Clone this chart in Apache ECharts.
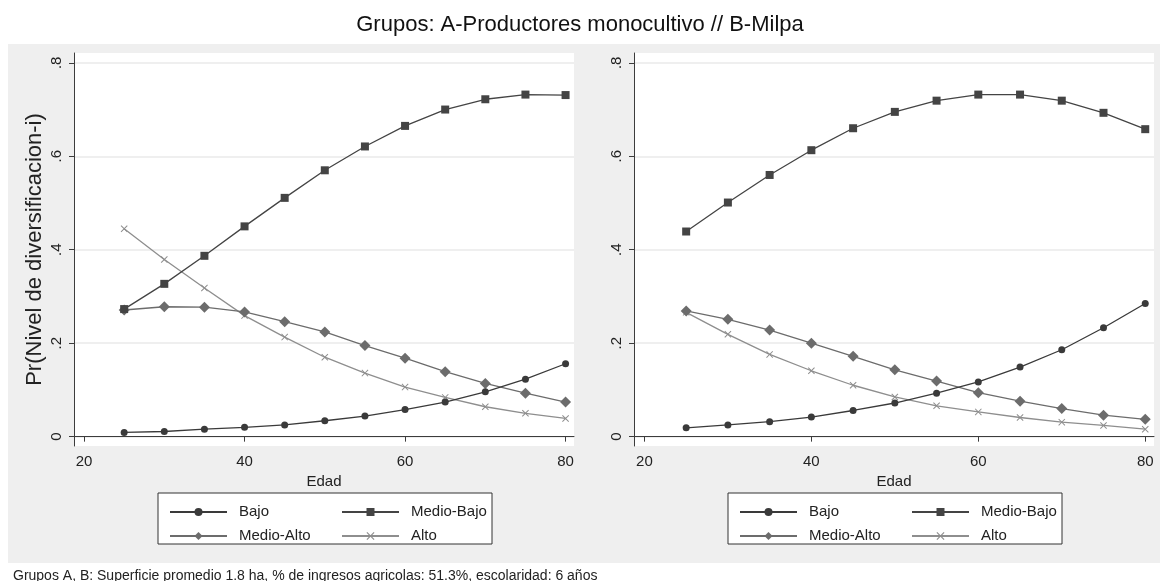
<!DOCTYPE html>
<html>
<head>
<meta charset="utf-8">
<script src="https://cdn.jsdelivr.net/npm/echarts@6/dist/echarts.min.js"></script>
<style>
  html, body { margin: 0; padding: 0; background: #fff; }
  #chart { width: 1160px; height: 581px; }
</style>
</head>
<body>
<div id="chart"></div>
<script>
// 数据
const edades = [25, 30, 35, 40, 45, 50, 55, 60, 65, 70, 75, 80];
const xTicks = [20, 40, 60, 80];
const yTicks = [0, 0.2, 0.4, 0.6, 0.8];
const niveles = ["Bajo", "Medio-Bajo", "Medio-Alto", "Alto"];

// A - Productores monocultivo
const bajoA = [0.009, 0.011, 0.016, 0.020, 0.025, 0.034, 0.044, 0.058, 0.074, 0.096, 0.123, 0.156];
const medioBajoA = [0.273, 0.327, 0.387, 0.450, 0.511, 0.570, 0.621, 0.665, 0.700, 0.722, 0.732, 0.731];
const medioAltoA = [0.271, 0.278, 0.277, 0.267, 0.246, 0.224, 0.195, 0.168, 0.139, 0.114, 0.093, 0.074];
const altoA = [0.445, 0.379, 0.318, 0.259, 0.213, 0.170, 0.136, 0.106, 0.084, 0.064, 0.050, 0.039];

// B - Milpa
const bajoB = [0.019, 0.025, 0.032, 0.042, 0.056, 0.072, 0.093, 0.117, 0.149, 0.186, 0.233, 0.285];
const medioBajoB = [0.439, 0.501, 0.560, 0.613, 0.660, 0.695, 0.719, 0.732, 0.732, 0.719, 0.693, 0.658];
const medioAltoB = [0.269, 0.251, 0.228, 0.200, 0.172, 0.143, 0.119, 0.094, 0.076, 0.060, 0.046, 0.037];
const altoB = [0.266, 0.219, 0.176, 0.141, 0.110, 0.085, 0.066, 0.053, 0.041, 0.031, 0.024, 0.016];

const titulo = "Grupos: A-Productores monocultivo // B-Milpa";
const nota = "Grupos A, B: Superficie promedio 1.8 ha, % de ingresos agricolas: 51.3%, escolaridad: 6 años";

const font = "Liberation Sans, Arial, sans-serif";
const colores = ["#3a3a3a", "#444444", "#6c6c6c", "#8e8e8e"];
const simbolos = [
  "circle",
  "rect",
  "diamond",
  "path://M0,1L1,0L5,4L9,0L10,1L6,5L10,9L9,10L5,6L1,10L0,9L4,5Z",
];
const tamanos = [7, 8, 11, 7];

function pares(vals) {
  return edades.map((e, i) => [e, vals[i]]);
}

function fmtY(v) {
  if (v === 0) return "0";
  return String(v).replace("0.", ".");
}

function makeSeries(idx, listas) {
  return listas.map((vals, k) => ({
    name: niveles[k],
    type: "line",
    xAxisIndex: idx,
    yAxisIndex: idx,
    data: pares(vals),
    symbol: simbolos[k],
    symbolSize: tamanos[k],
    color: colores[k],
    lineStyle: { width: 1.3, color: colores[k] },
    itemStyle: { color: colores[k] },
    z: 10 - k,
  }));
}

function xAxisDe(idx) {
  return {
    type: "value",
    gridIndex: idx,
    min: 18.75,
    max: 81.05,
    name: "Edad",
    nameLocation: "middle",
    nameGap: 26,
    nameTextStyle: { color: "#222", fontSize: 15, fontFamily: font },
    axisLine: { lineStyle: { color: "#3c3c3c", width: 1 } },
    axisTick: { customValues: xTicks, length: 5, lineStyle: { color: "#3c3c3c" } },
    axisLabel: { customValues: xTicks, color: "#222", fontSize: 15, fontFamily: font, margin: 8 },
    splitLine: { show: false },
  };
}

function yAxisDe(idx, nombre) {
  return {
    type: "value",
    gridIndex: idx,
    min: -0.02,
    max: 0.821,
    name: nombre,
    nameLocation: "middle",
    nameGap: 28,
    nameRotate: 90,
    nameTextStyle: { color: "#222", fontSize: 22, fontFamily: font },
    axisLine: { show: true, lineStyle: { color: "#3c3c3c", width: 1 } },
    axisTick: { show: true, customValues: yTicks, length: 5, lineStyle: { color: "#3c3c3c" } },
    axisLabel: {
      customValues: yTicks,
      rotate: 90,
      color: "#222",
      fontSize: 15,
      fontFamily: font,
      margin: 10,
      formatter: fmtY,
    },
    splitLine: { show: true, lineStyle: { color: "#eaeaea", width: 1.5 } },
  };
}

function legendDe(left, items) {
  return {
    data: items,
    orient: "vertical",
    left: left,
    top: 498,
    itemWidth: 57,
    itemHeight: 10,
    itemGap: 6,
    textStyle: { color: "#222", fontSize: 15, fontFamily: font, lineHeight: 18, padding: [0, 0, 0, 7] },
    selectedMode: false,
  };
}

const chart = echarts.init(document.getElementById("chart"));
const option = {
  animation: false,
  backgroundColor: "#fff",
  title: [
    { text: titulo, left: "center", top: 9, textStyle: { color: "#111", fontSize: 22, fontWeight: "normal", fontFamily: font } },
    { text: nota, left: 8, top: 564, textStyle: { color: "#222", fontSize: 14, fontWeight: "normal", fontFamily: font } },
  ],
  graphic: [
    { type: "rect", z: -10, silent: true, shape: { x: 8, y: 44, width: 1152, height: 519 }, style: { fill: "#efefef" } },
    { type: "rect", z: 1, silent: true, shape: { x: 158, y: 493, width: 334, height: 51 }, style: { fill: "#fff", stroke: "#333", lineWidth: 1 } },
    { type: "rect", z: 1, silent: true, shape: { x: 728, y: 493, width: 334, height: 51 }, style: { fill: "#fff", stroke: "#333", lineWidth: 1 } },
  ],
  grid: [
    { left: 74, top: 53, width: 500, height: 393, show: true, backgroundColor: "#fff", borderWidth: 0 },
    { left: 634, top: 53, width: 520, height: 393, show: true, backgroundColor: "#fff", borderWidth: 0 },
  ],
  xAxis: [xAxisDe(0), xAxisDe(1)],
  yAxis: [yAxisDe(0, "Pr(Nivel de diversificacion-i)"), yAxisDe(1, "")],
  legend: [
    legendDe(164, ["Bajo", "Medio-Alto"]),
    legendDe(336, ["Medio-Bajo", "Alto"]),
    legendDe(734, ["Bajo", "Medio-Alto"]),
    legendDe(906, ["Medio-Bajo", "Alto"]),
  ],
  series: [
    ...makeSeries(0, [bajoA, medioBajoA, medioAltoA, altoA]),
    ...makeSeries(1, [bajoB, medioBajoB, medioAltoB, altoB]),
  ],
};
chart.setOption(option);
</script>
</body>
</html>
